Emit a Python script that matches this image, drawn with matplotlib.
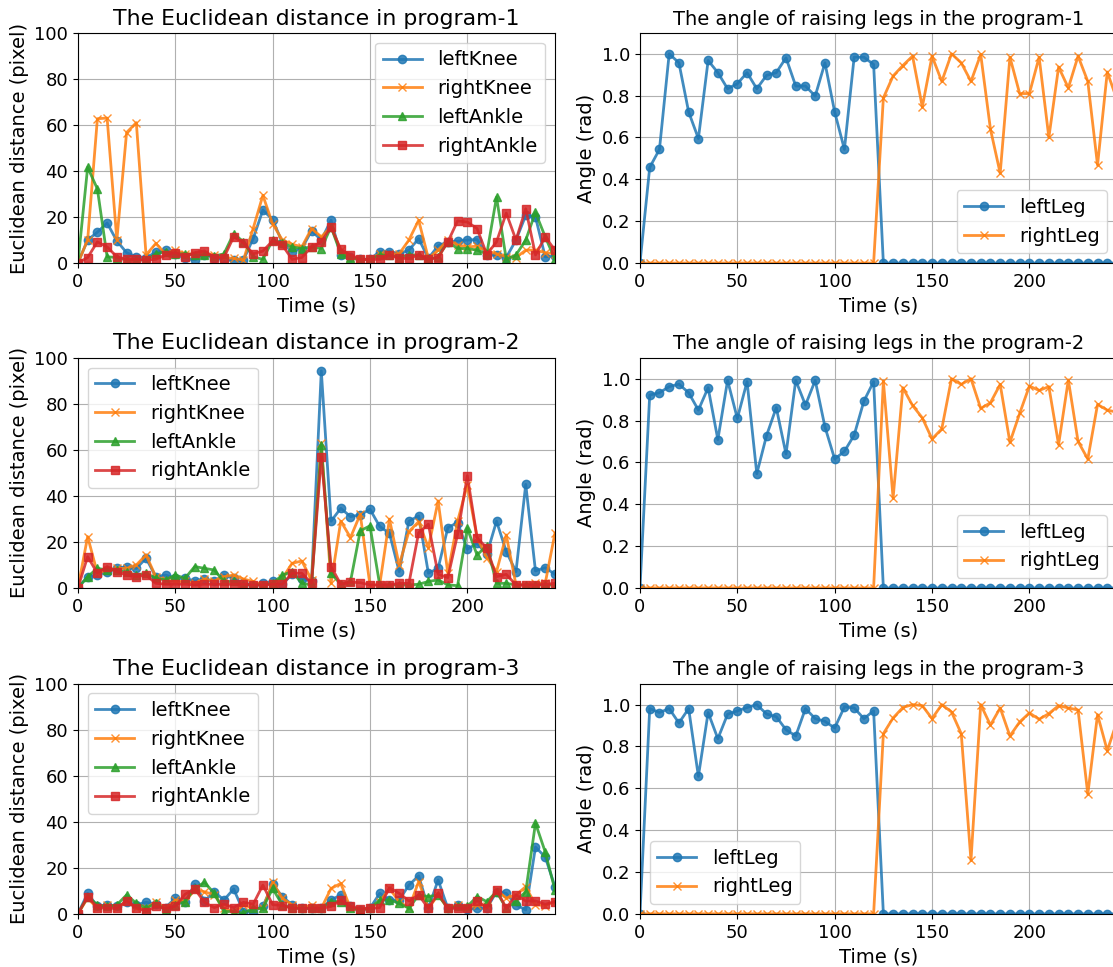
import numpy as np
from matplotlib import pyplot as plt

time = np.arange(0, 250, 5)

# program-1, euclidean distances
p1_left_knee = [0, 10, 13.4, 17.4, 9.6, 4.5, 2.7, 2.4, 4.6, 5.6, 4, 2, 1.3, 3.5, 2.4, 1.3, 1.3, 1.3, 10.6, 23,
                18.9, 8.8, 4.9, 6.3, 14, 10, 18.6, 3.5, 2.7, 1.6, 1.6, 5, 5, 4, 5.6, 10.6, 2, 7.5, 9.2, 9.5,
                10, 10.2, 3.5, 3.5, 2.4, 10, 20.7, 20, 2.7, 3]
p1_right_knee = [0, 10, 62.7, 63, 10, 56.7, 61, 3.5, 8.5, 4, 5.6, 4, 4, 4, 3.5, 2.4, 2, 1.3, 15, 29.4,
                 17, 10, 8.2, 7, 15, 11.4, 15.7, 5.6, 2, 1.6, 1.6, 4, 4, 4, 10, 18.6, 2, 5.6, 10, 7.8,
                 7, 7.3, 5.3, 4, 2.7, 2.4, 5.6, 5.6, 4.5, 4]
p1_left_ankle = [0, 41.6, 32.2, 2.7, 2.4, 1.3, 1.3, 1.3, 4, 4.9, 4, 4, 3.5, 3.5, 3, 4, 12.8, 9.2, 2.7, 1.6,
                 10, 8.8, 7, 6.3, 7, 6.3, 15.7, 4, 2.4, 1.6, 1.6, 3.5, 3.5, 2.4, 3.5, 3.5, 1.6, 2.7, 9.2, 6.3,
                 6.3, 5.6, 4, 28.6, 1.6, 3.5, 10, 22, 11.4, 1.6]
p1_right_ankle = [0, 2.4, 9.2, 7, 2.7, 1.6, 1.6, 1.3, 1.6, 3.5, 4.5, 2.7, 4.5, 5.3, 2.4, 2.4, 11.4, 8.8, 4, 5.2,
                  9.6, 7.8, 1.6, 2.4, 7, 9.2, 15.7, 5.9, 3.5, 1.6, 1.6, 1.6, 3.5, 2, 2, 3.5, 1.6, 2.4, 9.2, 18.3,
                  17.8, 15, 3.7, 9.2, 21.7, 10, 23.6, 3.5, 11.4, 5.6]

# program-2, euclidean distances
p2_left_knee = [0, 4.9, 5.6, 7, 8.5, 9.3, 8.5, 12.9, 4.9, 5.6, 4.2, 4.2, 3, 3.9, 2.8, 5.6, 4.2, 2, 1.3, 2,
                2.8, 1.6, 5.9, 4, 3, 94.3, 29, 34.6, 31, 31.7, 34.2, 26.7, 23.8, 7.1, 29, 31.3, 6.4, 8.5, 26.2, 28.4,
                16.8, 19.4, 14.6, 29, 15.8, 7.1, 45, 7.4, 8.8, 5.9]
p2_right_knee = [0, 22.3, 6.4, 7.8, 8.5, 8.5, 10, 14.3, 4.9, 3.5, 2.8, 2.8, 2, 3.9, 3, 4.9, 5.6, 3.9, 2.8, 1.3,
                 2, 4.2, 10.7, 11.7, 3.5, 62.9, 2, 29, 21.9, 32, 1.3, 1.3, 29.9, 10, 24.5, 28.8, 17.5, 37.8, 6.4, 29,
                 44.8, 21.9, 13.2, 7.1, 23, 1.3, 1.3, 2, 2, 23.8]
p2_left_ankle = [0, 4.9, 8.5, 7.8, 7.8, 6.8, 5.6, 6.4, 4.2, 3.5, 5.6, 4.2, 9.3, 8.5, 7.8, 2.8, 2.8, 1.3, 1.3, 1.3,
                 2, 5.6, 7.1, 2, 1.3, 62, 6.4, 1.6, 2.8, 24.8, 27, 1.3, 1.3, 1.3, 1.3, 1.6, 2.8, 3.5, 1.3, 1,
                 25.9, 14.3, 18.4, 2, 2, 1.3, 1.3, 1.3, 1.3, 1.3]
p2_right_ankle = [0, 13.6, 6.4, 9.3, 7.1, 5.6, 4.9, 5.6, 2, 1.6, 1.6, 1.6, 1.3, 1.6, 1.6, 1.6, 1.6, 1.6, 1.3, 1.3,
                  1.6, 1.6, 6.4, 6.4, 2, 57, 9.3, 1.6, 2.5, 2.3, 1.3, 1.3, 1.3, 2, 2, 24, 27.7, 5.9, 4.5, 23.3,
                  48.8, 21.9, 17.2, 4.9, 5.9, 1.3, 1.3, 1.3, 1.6, 2]

# program-3, euclidean distances
p3_left_knee = [0, 8.9, 3.2, 3.9, 3.2, 5, 3.9, 5, 4.2, 2.7, 6.8, 5, 12.8, 5.6, 9.6, 6, 10.8, 1, 1, 3.2,
                12.8, 7.5, 3.9, 2.7, 2.4, 2.4, 6, 8.2, 3.2, 1.7, 2.4, 8.9, 6, 6, 12.5, 16.5, 2.4, 14.7, 2.4, 3.9,
                2.2, 2.4, 2.4, 9.6, 8.9, 3.9, 1.7, 29, 24.7, 11.8]
p3_right_knee = [0, 6.8, 2.4, 3.9, 2.4, 5.6, 2.4, 2.4, 5.3, 2.4, 6, 5.3, 10.4, 9.6, 8.2, 2.4, 1, 3.9, 2.4, 2.4,
                 13.7, 6.8, 3.9, 2.4, 3.9, 2.4, 11, 13.2, 2.4, 1.7, 2.4, 5.3, 11, 5.3, 2.4, 14, 2.4, 8.2, 2.4, 3.9,
                 2.4, 3.9, 3.6, 10.4, 6.8, 8.2, 11.8, 3.9, 3.6, 5.3]
p3_left_ankle = [0, 7.5, 3.9, 3.2, 3.9, 8.2, 4.6, 2.4, 4.6, 1.7, 3.9, 5.3, 11, 13.7, 8.9, 1, 1, 0.3, 2.4, 2.4,
                 11, 3.9, 2.4, 2.4, 2.4, 2.4, 5.3, 5.3, 2.4, 1.7, 2.4, 6, 6, 4.6, 2.4, 8.2, 7.5, 8.2, 2.4, 3.2,
                 3.2, 7.5, 5.3, 9.6, 2.4, 5.6, 9.6, 39.4, 26.9, 10.4]
p3_right_ankle = [0, 7.5, 2.7, 2.4, 2.4, 5.6, 2.7, 1, 3.2, 2.4, 3.2, 8.5, 10.8, 5, 2.7, 4.2, 2.7, 5, 4.2, 12.5,
                  4, 3.6, 2.4, 2.4, 2.4, 2.4, 3.2, 6, 3.2, 2.2, 2.4, 2.7, 11.4, 8.9, 5.6, 8.2, 2.4, 8.9, 2.4, 2.4,
                  2.4, 5.6, 2.7, 10.4, 2.4, 8.2, 5.6, 5.6, 4.2, 5.3]

# angles of raising legs
a1_left_leg = [0, 0.457, 0.543, 1.0, 0.957, 0.722, 0.595, 0.968, 0.91, 0.833, 0.857, 0.91, 0.833, 0.897, 0.91,
               0.981, 0.846, 0.846, 0.798, 0.957, 0.722, 0.543, 0.984, 0.984, 0.949] + [0] * 25
a1_right_leg = [0] * 25 + [0.789, 0.894, 0.944, 0.989, 0.746, 0.989, 0.868, 1.0, 0.957, 0.868, 0.997, 0.64, 0.429,
                           0.984, 0.81, 0.81, 0.984, 0.6, 0.937, 0.837, 0.989, 0.868, 0.468, 0.913, 0.78]
a2_left_leg = [0, 0.922, 0.933, 0.962, 0.974, 0.933, 0.85, 0.957, 0.709, 0.992, 0.81, 0.986, 0.546, 0.728, 0.862,
               0.64, 0.992, 0.874, 0.992, 0.77, 0.616, 0.653, 0.73, 0.893, 0.986] + [0] * 25
a2_right_leg = [0] * 25 + [0.989, 0.429, 0.957, 0.872, 0.813, 0.712, 0.76, 1.0, 0.973, 1.0, 0.858, 0.885, 0.973,
                           0.696, 0.834, 0.965, 0.944, 0.962, 0.685, 0.994, 0.7, 0.616, 0.877, 0.85, 0.84]
a3_left_leg = [0, 0.981, 0.962, 0.981, 0.912, 0.981, 0.657, 0.962, 0.837, 0.954, 0.97, 0.986, 1.0, 0.955, 0.942,
               0.88, 0.85, 0.981, 0.933, 0.92, 0.888, 0.989, 0.984, 0.933, 0.97] + [0] * 25
a3_right_leg = [0] * 25 + [0.861, 0.936, 0.986, 1.0, 0.995, 0.933, 1.0, 0.965, 0.861, 0.255, 1.0, 0.902, 0.984,
                           0.85, 0.917, 0.96, 0.93, 0.957, 0.995, 0.984, 0.974, 0.572, 0.952, 0.78, 0.92]

dist_data = [
    (p1_left_knee, p1_right_knee, p1_left_ankle, p1_right_ankle),
    (p2_left_knee, p2_right_knee, p2_left_ankle, p2_right_ankle),
    (p3_left_knee, p3_right_knee, p3_left_ankle, p3_right_ankle),
]
angle_data = [(a1_left_leg, a1_right_leg), (a2_left_leg, a2_right_leg), (a3_left_leg, a3_right_leg)]
dist_legend_loc = ["upper right", "upper left", "upper left"]
angle_legend_loc = ["lower right", "lower right", "lower left"]

plt.rcParams['font.size'] = 13

fig = plt.figure(figsize=(11.13, 9.67), dpi=100)
bottoms = [0.728, 0.392, 0.055]
h = 0.238

for i in range(3):
    ax = fig.add_axes([0.070, bottoms[i], 0.4286, h])
    lk, rk, la, ra = dist_data[i]
    ax.plot(time, lk, marker="o", color="tab:blue", alpha=0.85, lw=2, ms=6, label="leftKnee")
    ax.plot(time, rk, marker="x", color="tab:orange", alpha=0.85, lw=2, ms=6, label="rightKnee")
    ax.plot(time, la, marker="^", color="tab:green", alpha=0.85, lw=2, ms=6, label="leftAnkle")
    ax.plot(time, ra, marker="s", color="tab:red", alpha=0.85, lw=2, ms=6, label="rightAnkle")
    ax.set_xlim(0, 245)
    ax.set_ylim(0, 100)
    ax.grid(True)
    ax.set_title(f"The Euclidean distance in program-{i + 1}", fontsize=15.8)
    ax.set_xlabel("Time (s)", fontsize=14)
    ax.set_ylabel("Euclidean distance (pixel)", fontsize=14)
    ax.legend(loc=dist_legend_loc[i], fontsize=14)

    ax2 = fig.add_axes([0.575, bottoms[i], 0.4286, h])
    ll, rl = angle_data[i]
    ax2.plot(time, ll, marker="o", color="tab:blue", alpha=0.85, lw=2, ms=6, label="leftLeg")
    ax2.plot(time, rl, marker="x", color="tab:orange", alpha=0.85, lw=2, ms=6, label="rightLeg")
    ax2.set_xlim(0, 245)
    ax2.set_ylim(0, 1.1)
    ax2.set_yticks([0.0, 0.2, 0.4, 0.6, 0.8, 1.0])
    ax2.grid(True)
    ax2.set_title(f"The angle of raising legs in the program-{i + 1}", fontsize=14)
    ax2.set_xlabel("Time (s)", fontsize=14)
    ax2.set_ylabel("Angle (rad)", fontsize=14)
    ax2.legend(loc=angle_legend_loc[i], fontsize=14)

plt.savefig("out.png", dpi=100)
